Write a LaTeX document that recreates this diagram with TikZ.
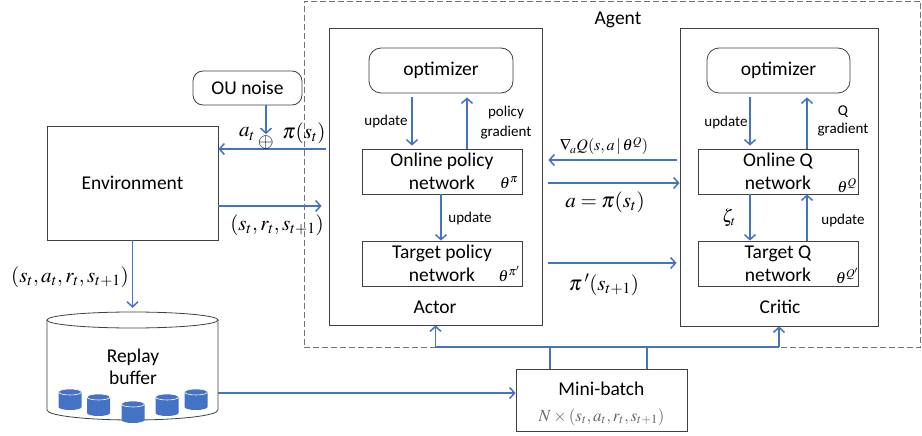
\documentclass[tikz,border=0pt]{standalone}
\usepackage{mathptmx}
\usepackage{fontspec}
\setmainfont{Carlito}
\usetikzlibrary{arrows.meta,calc}
\definecolor{obl}{RGB}{68,114,196}
\begin{document}
\begin{tikzpicture}[x=1pt,y=-1pt,
 box/.style={draw=black!75, line width=0.8pt, inner sep=0, align=center, font=\fontsize{19.5}{23}\selectfont},
 rbox/.style={box, rounded corners=12pt},
 bl/.style={draw=obl, line width=1.5pt},
 arr/.style={bl, -{Straight Barb[length=5pt,width=11pt]}},
 lab/.style={inner sep=0, font=\fontsize{15}{19}\selectfont, align=center},
 big/.style={inner sep=0, font=\fontsize{19.5}{22}\selectfont, align=center},
 mth/.style={inner sep=0, font=\fontsize{21}{23}\selectfont},
 sml/.style={inner sep=0, font=\fontsize{16}{18}\selectfont},
 th/.style={inner sep=0, font=\fontsize{16}{18}\selectfont},
]
\useasboundingbox (0,0) rectangle (922,436);
% agent frame
\node[box, draw=black!55, dash pattern=on 6pt off 3pt, minimum width=616.5, minimum height=346] (agent) at (612.25,174) {};
\node[big] (agentlab) at (618,20) {Agent};
% actor / critic frames
\node[box, minimum width=213, minimum height=297] (actor) at (435.5,176.5) {};
\node[box, minimum width=198, minimum height=298] (critic) at (779,177) {};
\node[rbox, minimum width=144, minimum height=45] (aopt) at (441,70.5) {optimizer};
\node[rbox, minimum width=143, minimum height=45] (copt) at (778.5,70.5) {optimizer};
\node[box, minimum width=160, minimum height=45] (aonl) at (442,171.5) {Online policy\\network};
\node[box, minimum width=160, minimum height=45] (atgt) at (442,263.5) {Target policy\\network};
\node[box, minimum width=160, minimum height=45] (conl) at (778,171.5) {Online Q\\network};
\node[box, minimum width=160, minimum height=45] (ctgt) at (778,263.5) {Target Q\\network};
\node[big] (actorlab) at (435,307) {Actor};
\node[big] (criticlab) at (780,307) {Critic};
% environment, noise, mini-batch
\node[box, minimum width=171, minimum height=114] (env) at (132.5,183) {Environment};
\node[box, rounded corners=10pt, minimum width=109, minimum height=34] (ou) at (247.5,88) {OU noise};
\node[box, minimum width=171, minimum height=62] (mini) at (601.5,400) {};
\node[big] (mtxt) at (601.5,389) {Mini-batch};
\node[inner sep=0, font=\fontsize{17}{19}\selectfont, text=black!60] (mform) at (601.5,417) {$N\times(s_t,a_t,r_t,s_{t+1})$};
% replay buffer
\node[inner sep=0, minimum width=171, minimum height=110] (buf) at (132.5,367) {};
\draw[black!75, line width=0.8pt] (47,320) -- (47,410) arc[start angle=180,end angle=360,x radius=85.5pt,y radius=10pt] -- (218,320);
\draw[black!75, line width=0.8pt] (132.5,320) ellipse[x radius=85.5pt, y radius=8pt];
\node[big] (buflab) at (133,367) {Replay\\buffer};
\foreach \cx/\ct/\cb in {70/392/407, 98.5/397/413, 133/404/420, 167/397/413, 196/392/407}{
  \fill[obl] (\cx-11.5,\ct) -- (\cx-11.5,\cb) arc[start angle=180,end angle=360,x radius=11.5pt,y radius=3pt] -- (\cx+11.5,\ct) -- cycle;
  \draw[white, line width=0.6pt, fill=obl] (\cx,\ct) ellipse[x radius=11.5pt, y radius=3pt];
}
% actor arrows
\draw[arr, shorten <=4pt, shorten >=3pt] ([xshift=-29pt]aopt.south) -- ([xshift=-30pt]aonl.north);
\draw[arr, shorten >=4pt] ([xshift=25pt]aonl.north) -- ([xshift=26pt]aopt.south);
\draw[arr] ([xshift=-1pt]aonl.south) -- ([xshift=-1pt]atgt.north);
\node[lab] (l1) at (386,122) {update};
\node[lab, font=\fontsize{15}{20}\selectfont] (l2) at (506,123) {policy\\gradient};
\node[lab] (l3) at (470,218) {update};
\node[th] (th1) at (509,183) {$\theta^{\pi}$};
\node[th] (th2) at (509,274) {$\theta^{\pi'}$};
% critic arrows
\draw[arr, shorten <=4pt, shorten >=3pt] ([xshift=-28.5pt]copt.south) -- ([xshift=-28pt]conl.north);
\draw[arr, shorten >=4pt] ([xshift=29pt]conl.north) -- ([xshift=28.5pt]copt.south);
\draw[arr] ([xshift=-28pt]conl.south) -- ([xshift=-28pt]ctgt.north);
\draw[arr] ([xshift=29pt]ctgt.north) -- ([xshift=29pt]conl.south);
\node[lab] (l4) at (726,123) {update};
\node[lab, font=\fontsize{15}{18}\selectfont] (l5) at (843,121) {Q\\gradient};
\node[lab] (l6) at (843,221) {update};
\node[inner sep=0, font=\fontsize{18}{20}\selectfont] (l7) at (729,218) {$\zeta_t$};
\node[th] (th3) at (847,186) {$\theta^{Q}$};
\node[th] (th4) at (847,276) {$\theta^{Q'}$};
% middle arrows
\coordinate (r1) at (0,160);
\coordinate (r2) at (0,183);
\coordinate (r3) at (0,263);
\draw[arr, shorten <=3pt, shorten >=6pt] (critic.west |- r1) -- (actor.east |- r1);
\draw[arr, shorten <=6pt] (actor.east |- r2) -- (critic.west |- r2);
\draw[arr, shorten <=6pt, shorten >=3pt] (actor.east |- r3) -- (critic.west |- r3);
\node[sml] (grad) at (604,146) {$\nabla_{\!a} Q(s,a\,|\,\theta^{Q})$};
\node[mth] (api) at (605,202) {$a=\pi(s_t)$};
\node[mth] (pip) at (604,285) {$\pi\,'(s_{t+1})$};
% environment arrows
\coordinate (r4) at (0,149);
\coordinate (r5) at (0,206);
\draw[arr, shorten <=3pt] (actor.west |- r4) -- (env.east |- r4);
\draw[arr, shorten >=7pt] (env.east |- r5) -- (actor.west |- r5);
\node[inner sep=0, font=\fontsize{20}{22}\selectfont] (oplus) at (266,142) {$\oplus$};
\draw[arr, shorten >=1pt] (ou.south -| oplus) -- (oplus.north);
\node[mth] (at) at (247,134) {$a_t$};
\node[mth] (pist) at (304,133) {$\pi(s_t)$};
\node[mth] (srs) at (277,225) {$(s_t,r_t,s_{t+1})$};
\draw[arr, shorten >=4pt] (env.south) -- (buf.north);
\node[mth] (sars) at (70,277) {$(s_t,a_t,r_t,s_{t+1})$};
% buffer to mini-batch
\coordinate (r6) at (0,393);
\draw[arr] (buf.east |- r6) -- (mini.west |- r6);
% bus
\coordinate (bus) at (0,347);
\draw[bl] ([xshift=-51.5pt]mini.north) -- ([xshift=-51.5pt]mini.north |- bus);
\draw[bl, line width=1.1pt] ([xshift=45.5pt]mini.north) -- ([xshift=45.5pt]mini.north |- bus);
\draw[bl] (actor.south |- bus) -- (critic.south |- bus);
\draw[arr] (actor.south |- bus) -- (actor.south);
\draw[arr] (critic.south |- bus) -- (critic.south);
\end{tikzpicture}
\end{document}
